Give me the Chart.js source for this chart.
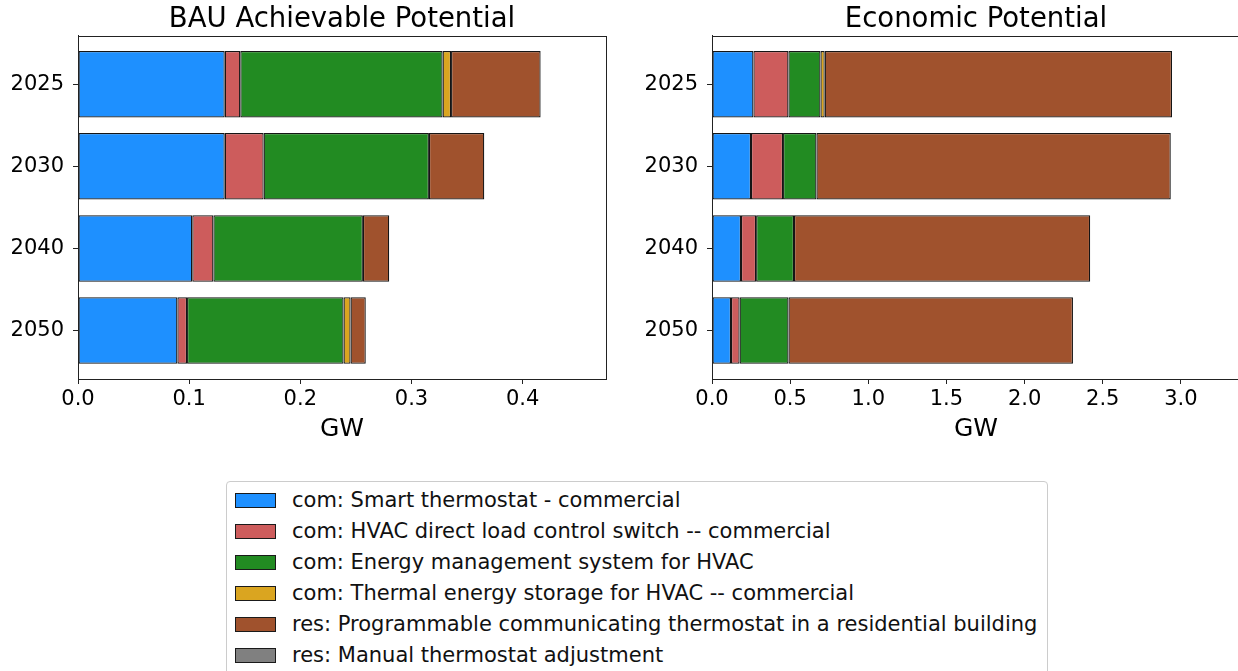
<!DOCTYPE html>
<html>
<head>
<meta charset="utf-8">
<script src="https://cdn.jsdelivr.net/npm/chart.js@4.4.1/dist/chart.umd.min.js"></script>
<style>
  html, body { margin: 0; padding: 0; background: #fff; width: 1238px; height: 671px; overflow: hidden; font-family: "DejaVu Sans", sans-serif; position: relative; }
  #leftWrap  { position: absolute; left: 0;     top: 0; width: 620px; height: 450px; }
  #rightWrap { position: absolute; left: 620px; top: 0; width: 640px; height: 450px; }
  #legend { position: absolute; left: 226px; top: 481px; width: 822px; height: 220px; border: 1px solid #cccccc; border-radius: 4px; box-sizing: border-box; background: #fff; }
  .item { position: absolute; left: 8px; height: 31px; display: flex; align-items: center; font-size: 21px; color: #111; white-space: nowrap; }
  .swatch { width: 41px; height: 15px; border: 1px solid #1a1a1a; box-sizing: border-box; margin-right: 16px; }
</style>
</head>
<body>
<div id="leftWrap"><canvas id="bauChart"></canvas></div>
<div id="rightWrap"><canvas id="econChart"></canvas></div>
<div id="legend"></div>
<script>
// Years shown on each panel, top to bottom
const years = ['2025', '2030', '2040', '2050'];

// Measures (series)
const measureNames = [
  'com: Smart thermostat - commercial',
  'com: HVAC direct load control switch -- commercial',
  'com: Energy management system for HVAC',
  'com: Thermal energy storage for HVAC -- commercial',
  'res: Programmable communicating thermostat in a residential building',
  'res: Manual thermostat adjustment'
];
const measureColors = ['#1E90FF', '#CD5C5C', '#228B22', '#DAA520', '#A0522D', '#808080'];

// BAU achievable potential (GW)
const bauSmartThermostat = [0.132, 0.132, 0.1028, 0.0894];
const bauHvacSwitch      = [0.014, 0.035, 0.019, 0.0087];
const bauEms             = [0.182, 0.1487, 0.1345, 0.1408];
const bauStorage         = [0.0076, 0, 0, 0.0063];
const bauResThermostat   = [0.0806, 0.0498, 0.0237, 0.0137];
const bauManual          = [0, 0, 0, 0];

// Economic potential (GW)
const econSmartThermostat = [0.265, 0.2495, 0.1855, 0.1216];
const econHvacSwitch      = [0.224, 0.205, 0.0967, 0.055];
const econEms             = [0.205, 0.2137, 0.2424, 0.3128];
const econStorage         = [0.027, 0, 0, 0];
const econResThermostat   = [2.222, 2.267, 1.895, 1.82];
const econManual          = [0, 0, 0, 0];

// Tick labels on the GW axes
const bauTicks  = [0, 0.1, 0.2, 0.3, 0.4];
const econTicks = [0, 0.5, 1.0, 1.5, 2.0, 2.5, 3.0];

const FONT = 'DejaVu Sans';
const INK = '#222222';

// Full rectangle around the plot area
const frame = {
  id: 'frame',
  afterDatasetsDraw(chart) {
    const { ctx, chartArea: a } = chart;
    ctx.save();
    ctx.strokeStyle = INK;
    ctx.lineWidth = 1;
    ctx.strokeRect(Math.round(a.left) + 0.5, Math.round(a.top) + 0.5, Math.round(a.right - a.left), Math.round(a.bottom - a.top));
    ctx.restore();
  }
};

// Each year sits at its row index on the vertical axis
function makeDatasets(seriesList) {
  return seriesList.map((values, i) => ({
    label: measureNames[i],
    data: values.map((v, row) => ({ x: v, y: row })),
    backgroundColor: measureColors[i],
    borderColor: '#151515',
    borderWidth: c => (c.raw && c.raw.x ? 1.25 : 0),
    borderSkipped: false,
    barPercentage: 0.81,
    categoryPercentage: 1.0
  }));
}

function makeChart(canvasId, title, seriesList, ticks, xMax, yAxisWidth, rightPad) {
  return new Chart(document.getElementById(canvasId), {
    type: 'bar',
    data: { datasets: makeDatasets(seriesList) },
    plugins: [frame],
    options: {
      indexAxis: 'y',
      responsive: true,
      maintainAspectRatio: false,
      animation: false,
      layout: { padding: { left: 0, right: rightPad, top: 0, bottom: 0 } },
      plugins: {
        legend: { display: false },
        tooltip: { enabled: false },
        title: {
          display: true,
          text: title,
          fullSize: false,
          color: '#000',
          font: { family: FONT, size: 27.5, weight: 'normal', lineHeight: 1.0 },
          padding: { top: 6, bottom: 2.2 }
        }
      },
      scales: {
        x: {
          type: 'linear',
          stacked: true,
          min: 0,
          max: xMax,
          afterFit: s => { s.height = 71; },
          afterBuildTicks: s => { s.ticks = ticks.map(v => ({ value: v })); },
          ticks: {
            color: '#000',
            font: { family: FONT, size: 21 },
            padding: 3,
            maxRotation: 0,
            callback: v => Number(v).toFixed(1)
          },
          grid: { display: true, offset: false, drawOnChartArea: false, drawTicks: true, tickLength: 5, tickColor: INK },
          border: { display: true, color: INK },
          title: {
            display: true,
            text: 'GW',
            color: '#000',
            font: { family: FONT, size: 25 },
            padding: { top: 0, bottom: 6 }
          }
        },
        y: {
          type: 'linear',
          stacked: true,
          reverse: true,
          offset: false,
          min: -0.59,
          max: 3.59,
          afterFit: s => { s.width = yAxisWidth; },
          afterBuildTicks: s => { s.ticks = years.map((_, i) => ({ value: i })); },
          ticks: { color: '#000', font: { family: FONT, size: 21 }, padding: 9, callback: v => years[v] },
          grid: { display: true, offset: false, drawOnChartArea: false, drawTicks: true, tickLength: 5, tickColor: INK },
          border: { display: true, color: INK }
        }
      }
    }
  });
}

makeChart('bauChart', 'BAU Achievable Potential',
  [bauSmartThermostat, bauHvacSwitch, bauEms, bauStorage, bauResThermostat, bauManual],
  bauTicks, 0.475, 78, 14);

makeChart('econChart', 'Economic Potential',
  [econSmartThermostat, econHvacSwitch, econEms, econStorage, econResThermostat, econManual],
  econTicks, 3.378, 92, 20);

// Shared legend below both panels
const legend = document.getElementById('legend');
measureNames.forEach((name, i) => {
  const row = document.createElement('div');
  row.className = 'item';
  row.style.top = (2.5 + i * 31) + 'px';
  const sw = document.createElement('div');
  sw.className = 'swatch';
  sw.style.background = measureColors[i];
  const tx = document.createElement('span');
  tx.textContent = name;
  row.appendChild(sw);
  row.appendChild(tx);
  legend.appendChild(row);
});
</script>
</body>
</html>
